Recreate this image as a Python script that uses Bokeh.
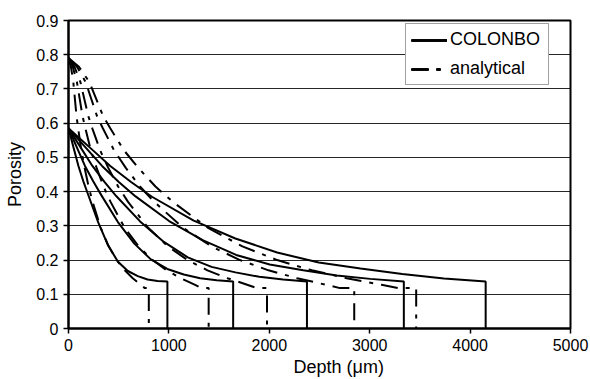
from bokeh.plotting import figure
from bokeh.models import FixedTicker, NumeralTickFormatter, Title
from bokeh.embed import file_html
from bokeh.resources import INLINE

FONT = "Liberation Sans"

# ---- data ----
x_ticks = [0, 1000, 2000, 3000, 4000, 5000]
y_ticks = [0, 0.1, 0.2, 0.3, 0.4, 0.5, 0.6, 0.7, 0.8, 0.9]

# COLONBO (solid) curves: depth (um) and porosity
colonbo_1_x = [0, 49, 99, 148, 197, 296, 394, 493, 591, 690, 788, 887, 985]
colonbo_1_y = [0.585, 0.53, 0.475, 0.43, 0.39, 0.31, 0.243, 0.195, 0.168, 0.153, 0.143, 0.139, 0.137]
colonbo_2_x = [0, 82, 164, 246, 328, 492, 656, 820, 984, 1148, 1312, 1476, 1640]
colonbo_2_y = [0.585, 0.53, 0.475, 0.43, 0.389, 0.311, 0.248, 0.202, 0.174, 0.158, 0.147, 0.141, 0.137]
colonbo_3_x = [0, 119, 238, 356, 475, 713, 950, 1188, 1425, 1663, 1900, 2138, 2375]
colonbo_3_y = [0.585, 0.53, 0.475, 0.429, 0.387, 0.313, 0.253, 0.208, 0.18, 0.164, 0.151, 0.143, 0.137]
colonbo_4_x = [0, 167, 334, 501, 668, 1002, 1336, 1670, 2004, 2338, 2672, 3006, 3340]
colonbo_4_y = [0.585, 0.53, 0.475, 0.428, 0.386, 0.314, 0.258, 0.215, 0.187, 0.17, 0.155, 0.145, 0.137]
colonbo_5_x = [0, 208, 416, 623, 831, 1247, 1662, 2078, 2493, 2909, 3324, 3740, 4155]
colonbo_5_y = [0.585, 0.53, 0.475, 0.428, 0.385, 0.315, 0.263, 0.222, 0.193, 0.175, 0.159, 0.146, 0.137]

# analytical (dashed) curves
analytical_1_x = [0, 24, 48, 64, 80, 96, 128, 160, 200, 240, 320, 400, 480, 560, 640, 720, 760, 800]
analytical_1_y = [0.79, 0.765, 0.72, 0.67, 0.62, 0.585, 0.52, 0.47, 0.415, 0.37, 0.295, 0.24, 0.2, 0.17, 0.147, 0.128, 0.118, 0.118]
analytical_2_x = [0, 42, 84, 112, 140, 168, 223, 279, 349, 419, 558, 698, 838, 977, 1117, 1256, 1326, 1396]
analytical_2_y = [0.79, 0.765, 0.72, 0.67, 0.62, 0.585, 0.52, 0.47, 0.415, 0.37, 0.295, 0.24, 0.2, 0.17, 0.147, 0.128, 0.118, 0.118]
analytical_3_x = [0, 59, 119, 158, 198, 237, 316, 395, 494, 593, 791, 989, 1186, 1384, 1582, 1779, 1878, 1977]
analytical_3_y = [0.79, 0.765, 0.72, 0.67, 0.62, 0.585, 0.52, 0.47, 0.415, 0.37, 0.295, 0.24, 0.2, 0.17, 0.147, 0.128, 0.118, 0.118]
analytical_4_x = [0, 85, 171, 228, 285, 342, 455, 569, 712, 854, 1138, 1423, 1708, 1992, 2277, 2561, 2704, 2846]
analytical_4_y = [0.79, 0.765, 0.72, 0.67, 0.62, 0.585, 0.52, 0.47, 0.415, 0.37, 0.295, 0.24, 0.2, 0.17, 0.147, 0.128, 0.118, 0.118]
analytical_5_x = [0, 104, 208, 277, 346, 416, 554, 693, 866, 1039, 1385, 1732, 2078, 2424, 2770, 3117, 3290, 3463]
analytical_5_y = [0.79, 0.765, 0.72, 0.67, 0.62, 0.585, 0.52, 0.47, 0.415, 0.37, 0.295, 0.24, 0.2, 0.17, 0.147, 0.128, 0.118, 0.118]

colonbo = [(colonbo_1_x, colonbo_1_y), (colonbo_2_x, colonbo_2_y), (colonbo_3_x, colonbo_3_y),
           (colonbo_4_x, colonbo_4_y), (colonbo_5_x, colonbo_5_y)]
analytical = [(analytical_1_x, analytical_1_y), (analytical_2_x, analytical_2_y),
              (analytical_3_x, analytical_3_y), (analytical_4_x, analytical_4_y),
              (analytical_5_x, analytical_5_y)]

# ---- figure ----
p = figure(width=590, height=379, x_range=(0, 5000), y_range=(0, 0.9),
           output_backend="svg", toolbar_location=None,
           min_border_left=68, min_border_right=20, min_border_top=20, min_border_bottom=51,
           background_fill_color="white", border_fill_color="white")

p.outline_line_color = "black"
p.outline_line_width = 2

p.xgrid.visible = False
p.ygrid.ticker = FixedTicker(ticks=y_ticks)
p.ygrid.grid_line_color = "black"
p.ygrid.grid_line_width = 1
p.ygrid.grid_line_alpha = 0.85

for ax in (p.xaxis[0], p.yaxis[0]):
    ax.axis_line_color = "black"
    ax.axis_line_width = 2
    ax.major_tick_line_color = "black"
    ax.major_tick_line_width = 1.5
    ax.major_tick_out = 5
    ax.major_tick_in = 0
    ax.minor_tick_line_color = None
    ax.major_label_text_font = FONT
    ax.major_label_text_font_size = "16px"
    ax.major_label_text_color = "black"

p.xaxis[0].ticker = FixedTicker(ticks=x_ticks)
p.xaxis[0].major_label_standoff = 5
p.yaxis[0].ticker = FixedTicker(ticks=y_ticks)
p.yaxis[0].formatter = NumeralTickFormatter(format="0.[0]")
p.yaxis[0].major_label_standoff = 5
p.yaxis[0].axis_label = "Porosity"
p.yaxis[0].axis_label_text_font = FONT
p.yaxis[0].axis_label_text_font_size = "18px"
p.yaxis[0].axis_label_text_font_style = "normal"
p.yaxis[0].axis_label_text_color = "black"
p.yaxis[0].axis_label_standoff = 8

for cx, cy in colonbo:
    p.line(cx + [cx[-1]], cy + [0], line_color="black", line_width=2, legend_label="COLONBO")

for ax_, ay_ in analytical:
    p.line(ax_ + [ax_[-1]], ay_ + [0], line_color="black", line_width=2,
           line_dash="17 8 4 8", legend_label="analytical")

lg = p.legend[0]
lg.location = (337, 243)
lg.margin = 0
lg.padding = 5
lg.spacing = 8
lg.label_height = 18
lg.glyph_height = 18
lg.glyph_width = 36
lg.label_standoff = 3
lg.label_width = 93
lg.label_text_font = FONT
lg.label_text_font_size = "18px"
lg.label_text_color = "black"
lg.border_line_color = "#444444"
lg.border_line_width = 1
lg.background_fill_color = "white"
lg.background_fill_alpha = 1

xtitle = Title(text="Depth (\u03bcm)", align="left", offset=225, standoff=3,
               text_font=FONT, text_font_size="18px", text_font_style="normal",
               text_color="black")
p.add_layout(xtitle, "below")

open("out.html", "w").write(file_html(p, INLINE))
